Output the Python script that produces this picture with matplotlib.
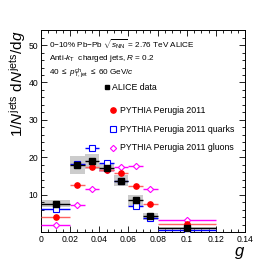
import numpy as np
import matplotlib.pyplot as plt
from matplotlib.patches import Rectangle

# bins in g
bin_lo = [0.0, 0.02, 0.03, 0.04, 0.05, 0.06, 0.07, 0.08]
bin_hi = [0.02, 0.03, 0.04, 0.05, 0.06, 0.07, 0.08, 0.12]

# ALICE data
alice = [7.6, 17.9, 18.9, 17.1, 13.7, 8.5, 4.2, 1.0]
alice_stat = [0.4, 0.5, 0.5, 0.5, 0.5, 0.4, 0.3, 0.2]
alice_sys = [0.9, 2.4, 2.0, 1.0, 1.5, 1.4, 0.9, 0.3]

# PYTHIA Perugia 2011
pythia = [4.0, 12.5, 17.5, 16.6, 15.8, 12.2, 7.6, 2.1]
quarks = [6.2, 18.1, 22.4, 18.5, 13.7, 7.1, 3.8, 0.5]
gluons = [1.8, 7.2, 11.6, 16.7, 17.5, 17.6, 11.5, 3.3]

lo = np.array(bin_lo)
hi = np.array(bin_hi)
xc = 0.5 * (lo + hi)
xerr = 0.5 * (hi - lo)

plt.rcParams['font.family'] = ['Liberation Sans', 'DejaVu Sans']
plt.rcParams['mathtext.fontset'] = 'custom'
plt.rcParams['mathtext.rm'] = 'Liberation Sans'
plt.rcParams['mathtext.it'] = 'Liberation Sans:italic'

fig = plt.figure(figsize=(2.74, 2.74), dpi=100)
ax = fig.add_axes([0.1496, 0.153, 0.745, 0.737])

# systematic boxes
for l, h, v, s in zip(bin_lo, bin_hi, alice, alice_sys):
    ax.add_patch(Rectangle((l, v - s), h - l, 2 * s, facecolor='#cccccc',
                           edgecolor='none', zorder=1))

ax.errorbar(xc, gluons, xerr=xerr, fmt='D', ms=3.2, mfc='white', mec='#ff00ff',
            ecolor='#ff00ff', elinewidth=1.0, mew=0.8, capsize=0, zorder=3)
ax.errorbar(xc, pythia, xerr=xerr, fmt='o', ms=3.8, mfc='#ff0000', mec='#ff0000',
            ecolor='#ff6060', elinewidth=1.0, capsize=0, zorder=4)
ax.errorbar(xc, quarks, xerr=xerr, fmt='s', ms=4.2, mfc='white', mec='#0000ff',
            ecolor='#0000ff', elinewidth=1.0, mew=0.8, capsize=0, zorder=5)
ax.errorbar(xc, alice, xerr=xerr, yerr=alice_stat, fmt='s', ms=4.0, mfc='black',
            mec='black', ecolor='black', elinewidth=1.0, capsize=0, zorder=6)

ax.set_xlim(0, 0.14)
ax.set_ylim(0, 54)
ax.set_xticks(np.arange(0, 0.141, 0.02))
ax.set_xticklabels(['0', '0.02', '0.04', '0.06', '0.08', '0.1', '0.12', '0.14'])
ax.set_xticks(np.arange(0, 0.141, 0.005), minor=True)
ax.set_yticks([10, 20, 30, 40, 50])
ax.set_yticks(np.arange(0, 54, 2), minor=True)
ax.tick_params(which='both', direction='in', top=True, right=True, labelsize=6.2,
               width=0.6, pad=2)
ax.tick_params(which='major', length=4)
ax.tick_params(which='minor', length=2)
for sp in ax.spines.values():
    sp.set_linewidth(0.7)

ax.set_xlabel(r'$g$', fontsize=12, loc='right', labelpad=1)
ax.set_ylabel(r'$1/N^{\rm jets}\ \mathrm{d}N^{\rm jets}/\mathrm{d}g$', fontsize=11,
              loc='top', labelpad=0)

# header text
fs = 5.9
fig.text(0.18, 0.838, r'0$-$10% Pb$-$Pb $\sqrt{s_{\rm NN}}$ = 2.76 TeV ALICE', fontsize=fs,
         va='center')
fig.text(0.18, 0.787, r'Anti-$k_{\rm T}$  charged jets, $R$ = 0.2', fontsize=fs, va='center')
fig.text(0.18, 0.735, r'40 $\leq$ $p_{\rm T,jet}^{\rm ch}$ $\leq$ 60 GeV/$c$', fontsize=fs,
         va='center')

# legend entries
leg_y = [0.681, 0.597, 0.529, 0.46]
leg_lab = ['ALICE data', 'PYTHIA Perugia 2011', 'PYTHIA Perugia 2011 quarks',
           'PYTHIA Perugia 2011 gluons']
leg_mx = [0.391, 0.412, 0.412, 0.412]
leg_style = [dict(marker='s', ms=2.5, mfc='black', mec='black'),
             dict(marker='o', ms=3.8, mfc='#ff0000', mec='#ff0000'),
             dict(marker='s', ms=4.0, mfc='white', mec='#0000ff', mew=0.8),
             dict(marker='D', ms=3.2, mfc='white', mec='#ff00ff', mew=0.8)]
for y, lab, mx, st in zip(leg_y, leg_lab, leg_mx, leg_style):
    fig.lines.append(plt.Line2D([mx], [y], transform=fig.transFigure, ls='none', **st))
    fig.text(mx + 0.025 if mx > 0.4 else mx + 0.018, y, lab, fontsize=6.3, va='center')

fig.savefig('out.png', dpi=100)
